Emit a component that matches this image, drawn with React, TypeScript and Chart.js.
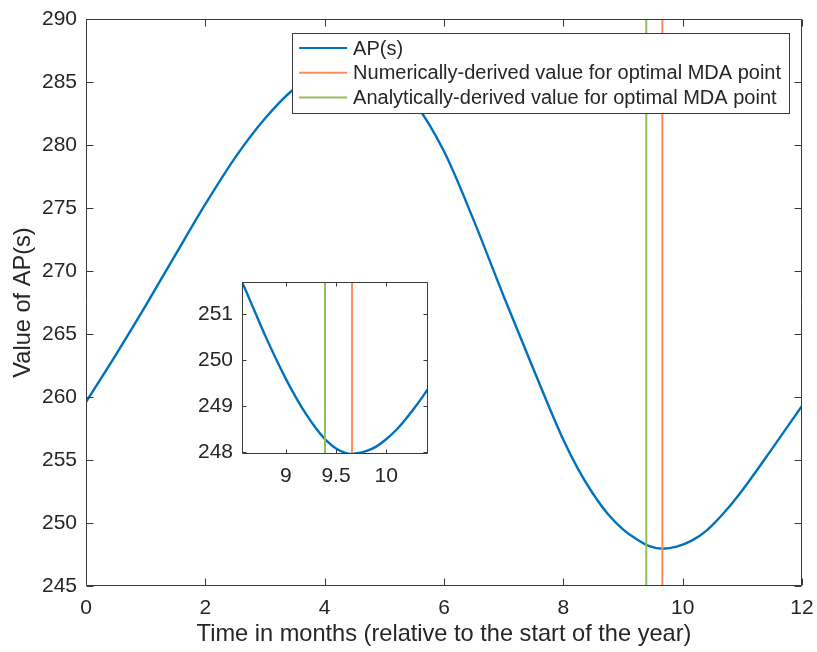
import React, { useEffect, useRef } from 'react';
import { Chart, registerables } from 'chart.js';

Chart.register(...registerables);

// ---- data ----
const mainMonths = [0, 0.5, 1, 1.5, 2, 2.5, 3, 3.5, 4, 4.5, 5, 5.5, 6, 6.5, 7, 7.5, 8, 8.25, 8.5, 8.75, 9, 9.2, 9.43, 9.66, 9.9, 10.15, 10.4, 10.7, 11, 11.5, 12];
const mainValues = [259.6, 263.35, 267.25, 271.3, 275.3, 279.0, 282.1, 284.5, 285.9, 286.4, 285.6, 283.4, 279.5, 274.0, 268.0, 262.2, 256.6, 254.25, 252.3, 250.7, 249.5, 248.8, 248.18, 247.96, 248.12, 248.6, 249.4, 250.85, 252.6, 255.9, 259.3];

const insetMonths = [8.563, 8.6, 8.7, 8.8, 8.9, 9.0, 9.1, 9.2, 9.3, 9.4, 9.5, 9.6, 9.657, 9.7, 9.8, 9.9, 10.0, 10.1, 10.2, 10.3, 10.417];
const insetValues = [251.69, 251.51, 251.0, 250.5, 250.03, 249.59, 249.19, 248.83, 248.52, 248.26, 248.08, 247.98, 247.96, 247.97, 248.02, 248.12, 248.28, 248.48, 248.73, 249.01, 249.37];

const numericOptimum = 9.66;
const analyticOptimum = 9.39;

const mainXTicks = [0, 2, 4, 6, 8, 10, 12];
const mainYTicks = [245, 250, 255, 260, 265, 270, 275, 280, 285, 290];
const insetXRange = [8.563, 10.417];
const insetYRange = [247.96, 251.69];
const insetXTicks = [9, 9.5, 10];
const insetYTicks = [248, 249, 250, 251];

const seriesLabels = [
  'AP(s)',
  'Numerically-derived value for optimal MDA point',
  'Analytically-derived value for optimal MDA point',
];
const seriesColors = ['#0072BD', '#FF8C5C', '#8FC05A'];

const xTitle = 'Time in months (relative to the start of the year)';
const yTitle = 'Value of AP(s)';

// ---- styling ----
const FONT = '"Liberation Sans", Arial, Helvetica, sans-serif';
const TEXT = '#262626';

const framePlugin = {
  id: 'frame',
  beforeDatasetsDraw(chart: any) {
    const { ctx, chartArea: a } = chart;
    ctx.save();
    ctx.fillStyle = '#ffffff';
    ctx.fillRect(a.left, a.top, a.right - a.left, a.bottom - a.top);
    ctx.restore();
  },
  afterDatasetsDraw(chart: any, _args: any, opts: any) {
    const { ctx, chartArea: a, scales } = chart;
    const tl = opts.tickLength || 6;
    const L = Math.round(a.left) + 0.5;
    const R = Math.round(a.right) - 0.5;
    const T = Math.round(a.top) + 0.5;
    const B = Math.round(a.bottom) - 0.5;
    ctx.save();
    ctx.strokeStyle = '#3a3a3a';
    ctx.lineWidth = 1;
    ctx.beginPath();
    ctx.rect(L, T, R - L, B - T);
    for (const t of scales.x.ticks) {
      const px = Math.round(scales.x.getPixelForValue(t.value)) + 0.5;
      ctx.moveTo(px, B);
      ctx.lineTo(px, B - tl);
      ctx.moveTo(px, T);
      ctx.lineTo(px, T + tl);
    }
    for (const t of scales.y.ticks) {
      const py = Math.round(scales.y.getPixelForValue(t.value)) + 0.5;
      ctx.moveTo(L, py);
      ctx.lineTo(L + tl, py);
      ctx.moveTo(R, py);
      ctx.lineTo(R - tl, py);
    }
    ctx.stroke();
    ctx.restore();
  },
};

const boxLegendPlugin = {
  id: 'boxLegend',
  afterDraw(chart: any, _args: any, opts: any) {
    if (!opts || !opts.show) return;
    const { ctx, chartArea: a } = chart;
    const ds = chart.data.datasets;
    ctx.save();
    ctx.font = `${opts.fontSize}px ${FONT}`;
    const textW = Math.max(...ds.map((d: any) => ctx.measureText(d.label).width));
    const padL = 7, lineLen = 48, gap = 6, padR = 8;
    const w = padL + lineLen + gap + textW + padR;
    const h = 80;
    const right = a.right - 13;
    const top = a.top + 14;
    const left = right - w;
    ctx.fillStyle = '#ffffff';
    ctx.fillRect(left, top, w, h);
    ctx.strokeStyle = '#3a3a3a';
    ctx.lineWidth = 1;
    ctx.strokeRect(Math.round(left) + 0.5, Math.round(top) + 0.5, Math.round(w), Math.round(h));
    ds.forEach((d: any, i: number) => {
      const y = top + 15 + i * 24.7;
      ctx.strokeStyle = d.borderColor;
      ctx.lineWidth = 2;
      ctx.beginPath();
      ctx.moveTo(left + padL, y);
      ctx.lineTo(left + padL + lineLen, y);
      ctx.stroke();
      ctx.fillStyle = TEXT;
      ctx.textBaseline = 'middle';
      ctx.textAlign = 'left';
      ctx.fillText(d.label, left + padL + lineLen + gap, y + 1);
    });
    ctx.restore();
  },
};

function vline(x: number, yLo: number, yHi: number) {
  return [{ x, y: yLo }, { x, y: yHi }];
}

function buildConfig(opts: {
  xs: number[]; ys: number[];
  xMin: number; xMax: number; yMin: number; yMax: number;
  xTicks: number[]; yTicks: number[];
  yWidth: number; xHeight: number; padding: any;
  titles: boolean; legend: boolean; tickLen: number;
}) {
  const curve = opts.xs.map((x, i) => ({ x, y: opts.ys[i] }));
  return {
    type: 'line' as const,
    data: {
      datasets: [
        {
          label: seriesLabels[0],
          data: curve,
          borderColor: seriesColors[0],
          borderWidth: 2.4,
          pointRadius: 0,
          cubicInterpolationMode: 'monotone' as const,
          fill: false,
          order: 3,
        },
        {
          label: seriesLabels[1],
          data: vline(numericOptimum, opts.yMin, opts.yMax),
          borderColor: seriesColors[1],
          borderWidth: 2,
          pointRadius: 0,
          fill: false,
          order: 2,
        },
        {
          label: seriesLabels[2],
          data: vline(analyticOptimum, opts.yMin, opts.yMax),
          borderColor: seriesColors[2],
          borderWidth: 2,
          pointRadius: 0,
          fill: false,
          order: 1,
        },
      ],
    },
    options: {
      responsive: false,
      animation: false as const,
      devicePixelRatio: 1,
      layout: { padding: opts.padding },
      plugins: {
        legend: { display: false },
        tooltip: { enabled: false },
        frame: { tickLength: opts.tickLen },
        boxLegend: { show: opts.legend, fontSize: 20 },
      },
      scales: {
        x: {
          type: 'linear' as const,
          min: opts.xMin,
          max: opts.xMax,
          grid: { display: false, drawTicks: false },
          border: { display: false },
          afterBuildTicks: (s: any) => { s.ticks = opts.xTicks.map((v) => ({ value: v })); },
          afterFit: (s: any) => {
            s.height = opts.xHeight;
            s.paddingLeft = 0;
            s.paddingRight = 0;
          },
          ticks: {
            color: TEXT,
            font: { family: FONT, size: 21 },
            padding: 10,
            maxRotation: 0,
            autoSkip: false,
            callback: (v: any) => String(v),
          },
          title: {
            display: opts.titles,
            text: xTitle,
            color: TEXT,
            font: { family: FONT, size: 23.6 },
            padding: { top: 0, bottom: 3 },
          },
        },
        y: {
          type: 'linear' as const,
          min: opts.yMin,
          max: opts.yMax,
          grid: { display: false, drawTicks: false },
          border: { display: false },
          afterBuildTicks: (s: any) => { s.ticks = opts.yTicks.map((v) => ({ value: v })); },
          afterFit: (s: any) => {
            s.width = opts.yWidth;
            s.paddingTop = 0;
            s.paddingBottom = 0;
          },
          ticks: {
            color: TEXT,
            font: { family: FONT, size: 21 },
            padding: 9,
            autoSkip: false,
            callback: (v: any) => String(v),
          },
          title: {
            display: opts.titles,
            text: yTitle,
            color: TEXT,
            font: { family: FONT, size: 23.6 },
            padding: { top: 9, bottom: 0 },
          },
        },
      },
    },
    plugins: [framePlugin, boxLegendPlugin],
  };
}

export default function App() {
  const mainRef = useRef<HTMLCanvasElement>(null);
  const insetRef = useRef<HTMLCanvasElement>(null);

  useEffect(() => {
    const main = new Chart(mainRef.current as HTMLCanvasElement, buildConfig({
      xs: mainMonths, ys: mainValues,
      xMin: mainXTicks[0], xMax: mainXTicks[mainXTicks.length - 1],
      yMin: mainYTicks[0], yMax: mainYTicks[mainYTicks.length - 1],
      xTicks: mainXTicks, yTicks: mainYTicks,
      yWidth: 86, xHeight: 66,
      padding: { left: 0, right: 15, top: 19, bottom: 0 },
      titles: true, legend: true, tickLen: 7,
    }) as any);
    const inset = new Chart(insetRef.current as HTMLCanvasElement, buildConfig({
      xs: insetMonths, ys: insetValues,
      xMin: insetXRange[0], xMax: insetXRange[1],
      yMin: insetYRange[0], yMax: insetYRange[1],
      xTicks: insetXTicks, yTicks: insetYTicks,
      yWidth: 62, xHeight: 36,
      padding: { left: 0, right: 12, top: 17, bottom: 0 },
      titles: false, legend: false, tickLen: 4,
    }) as any);
    return () => {
      main.destroy();
      inset.destroy();
    };
  }, []);

  return (
    <div style={{ position: 'fixed', left: 0, top: 0, width: 817, height: 652, background: '#ffffff' }}>
      <canvas
        ref={mainRef}
        width={817}
        height={652}
        style={{ position: 'absolute', left: 0, top: 0, width: 817, height: 652 }}
      />
      <canvas
        ref={insetRef}
        width={260}
        height={225}
        style={{ position: 'absolute', left: 180, top: 265, width: 260, height: 225 }}
      />
    </div>
  );
}
